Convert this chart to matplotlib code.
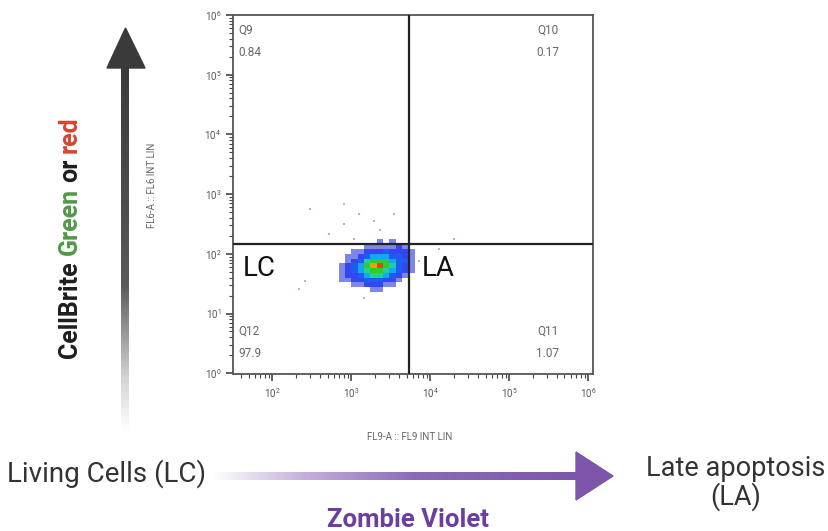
import numpy as np
import matplotlib.pyplot as plt
from matplotlib.colors import LinearSegmentedColormap
from matplotlib.patches import Polygon
from matplotlib.ticker import LogLocator, NullFormatter

plt.rcParams['font.family'] = ['Roboto', 'DejaVu Sans']

# event density of the main population, on log10 bins
x_bins_log = [2.84, 2.92, 3.00, 3.08, 3.16, 3.24, 3.32, 3.40, 3.48, 3.56, 3.64, 3.72, 3.80]
y_bins_log = [1.36, 1.44, 1.52, 1.60, 1.68, 1.76, 1.84, 1.92, 2.00, 2.08, 2.16, 2.24]
density = [
    [0, 0, 0, 0, 0, 1, 1, 0, 0, 0, 0, 0],
    [0, 0, 1, 1, 2, 2, 2, 1, 1, 0, 0, 0],
    [1, 1, 2, 2, 3, 3, 3, 2, 2, 1, 0, 0],
    [1, 2, 2, 3, 4, 5, 5, 4, 3, 2, 1, 0],
    [1, 2, 3, 4, 5, 6, 6, 5, 4, 3, 2, 1],
    [1, 2, 3, 4, 6, 8, 9, 6, 5, 3, 2, 1],
    [0, 1, 2, 3, 5, 6, 6, 6, 4, 3, 3, 1],
    [0, 1, 1, 2, 3, 4, 4, 4, 3, 3, 2, 1],
    [0, 0, 1, 1, 2, 2, 2, 3, 2, 2, 2, 1],
    [0, 0, 0, 0, 1, 1, 1, 1, 1, 2, 1, 0],
    [0, 0, 0, 0, 0, 0, 1, 0, 1, 0, 0, 0],
]

# isolated events outside the main cloud
sparse_x = [295, 815, 815, 1260, 1950, 3500, 1090, 525, 7200, 13000, 20000, 257, 217, 1460, 2300]
sparse_y = [560, 680, 316, 464, 355, 464, 178, 215, 76, 120, 178, 35, 26, 18, 250]

# quadrant gates and statistics
gate_x = 5400
gate_y = 147
quad_names = ["Q9", "Q10", "Q11", "Q12"]
quad_values = ["0.84", "0.17", "1.07", "97.9"]

fig = plt.figure(figsize=(8.29, 5.31), dpi=100)

# background layer in pixel units for the arrows and outer labels
bg = fig.add_axes([0, 0, 1, 1])
bg.axis("off")

ax = fig.add_axes([233 / 829, 1 - 374 / 531, 360 / 829, 359 / 531])

flow_cmap = LinearSegmentedColormap.from_list(
    "flow", ["#7f86ea", "#3447ee", "#1d5cf2", "#16a6f2", "#22cf9a", "#30cc28",
             "#86d010", "#f0a010", "#e84010"])
dens = np.ma.masked_equal(np.array(density, dtype=float), 0)
xe = 10 ** np.array(x_bins_log)
ye = 10 ** np.array(y_bins_log)
ax.pcolormesh(xe, ye, dens, cmap=flow_cmap, vmin=1, vmax=9, zorder=2)
ax.scatter(sparse_x, sparse_y, s=3, marker="s", color="#a9b6da", lw=0, zorder=2)

ax.axvline(gate_x, color="#222222", lw=1.6, zorder=3)
ax.axhline(gate_y, color="#222222", lw=1.6, zorder=3)

ax.set_xscale("log")
ax.set_yscale("log")
ax.set_xlim(10 ** 1.5, 10 ** 6.06)
ax.set_ylim(0.97, 1.0e6)

for axis in (ax.xaxis, ax.yaxis):
    axis.set_major_locator(LogLocator(base=10, numticks=12))
    axis.set_minor_locator(LogLocator(base=10, subs=np.arange(2, 10), numticks=12))
    axis.set_minor_formatter(NullFormatter())
ax.tick_params(which="major", length=5, width=1.2, color="#444444",
               labelsize=7, labelcolor="#555555", direction="out")
ax.tick_params(which="minor", length=3, width=0.8, color="#444444", direction="out")
for sp in ax.spines.values():
    sp.set_color("#555555")
    sp.set_linewidth(1.3)

qstyle = dict(fontsize=8.5, color="#666666", linespacing=1.9, transform=ax.transAxes)
ax.text(0.014, 0.975, quad_names[0] + "\n" + quad_values[0], ha="left", va="top", **qstyle)
ax.text(0.875, 0.975, quad_names[1] + "\n" + quad_values[1], ha="center", va="top",
        multialignment="center", **qstyle)
ax.text(0.875, 0.04, quad_names[2] + "\n" + quad_values[2], ha="center", va="bottom",
        multialignment="center", **qstyle)
ax.text(0.014, 0.04, quad_names[3] + "\n" + quad_values[3], ha="left", va="bottom", **qstyle)

ax.text(0.027, 10 ** 1.75, "LC", fontsize=20, color="#111111", va="center",
        transform=ax.get_yaxis_transform())
ax.text(0.525, 10 ** 1.75, "LA", fontsize=20, color="#111111", va="center",
        transform=ax.get_yaxis_transform())

# axis titles
bg.text(410, 437, "FL9-A :: FL9 INT LIN", fontsize=7, color="#666666", ha="center", va="center")
bg.text(152, 185, "FL6-A :: FL6 INT LIN", fontsize=7, color="#666666", ha="center",
        va="center", rotation=90)

# vertical grey arrow
gray_cmap = LinearSegmentedColormap.from_list(
    "g", [(0, "#ffffff"), (0.15, "#d2d2d2"), (0.4, "#5a5a5a"), (1, "#3a3a3a")])
bg.imshow(np.linspace(1, 0, 300).reshape(-1, 1), extent=[121.5, 129.5, 432, 66],
          cmap=gray_cmap, aspect="auto", origin="upper")
bg.add_patch(Polygon([(107, 68), (145, 68), (125.5, 28)], closed=True, color="#3a3a3a"))

# horizontal purple arrow
purple_cmap = LinearSegmentedColormap.from_list(
    "p", [(0, "#ffffff"), (0.25, "#c3b0da"), (0.55, "#8c6bb8"), (1, "#7d56ab")])
bg.imshow(np.linspace(0, 1, 300).reshape(1, -1), extent=[212, 578, 480, 472],
          cmap=purple_cmap, aspect="auto", origin="upper")
bg.add_patch(Polygon([(576, 452), (576, 500), (613, 476)], closed=True, color="#7d56ab"))

# outer labels
bg.text(107, 474, "Living Cells (LC)", fontsize=20, color="#333333", ha="center", va="center")
bg.text(736, 483, "Late apoptosis\n(LA)", fontsize=19.5, color="#333333", ha="center",
        va="center", linespacing=1.0)
bg.text(408, 520, "Zombie Violet", fontsize=18.5, fontweight="bold", color="#6b3fa0",
        ha="center", va="center")

# multicoloured vertical title
bg.set_xlim(0, 829)
bg.set_ylim(531, 0)
r = fig.canvas.get_renderer()
pieces = [("CellBrite", "#1e1e1e"), ("Green", "#4f9a45"), ("or", "#1e1e1e"), ("red", "#d8432f")]
y = 358
for word, col in pieces:
    t = bg.text(70, y, word, rotation=90, ha="center", va="bottom", color=col,
                fontsize=18, fontweight="bold")
    bb = t.get_window_extent(r)
    y -= bb.height + 6

fig.savefig("out.png", dpi=100)
